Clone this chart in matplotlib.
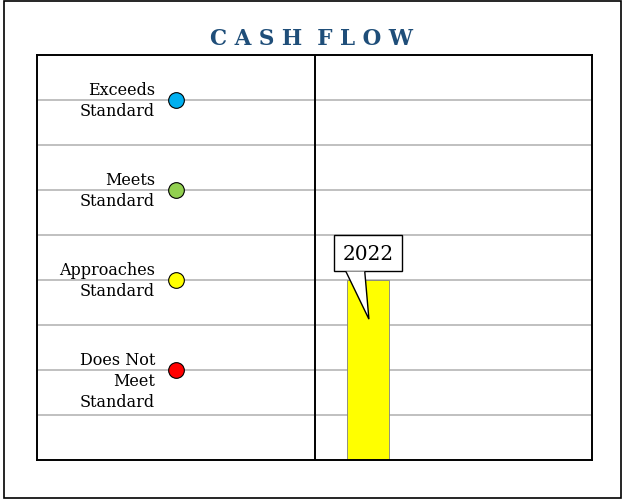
import matplotlib.pyplot as plt
from matplotlib.patches import Rectangle, Polygon

# rating levels shown on the left panel
levels = ["Exceeds\nStandard", "Meets\nStandard", "Approaches\nStandard", "Does Not\nMeet\nStandard"]
level_values = [8, 6, 4, 2]
level_colors = ["#00b0f0", "#92d050", "#ffff00", "#ff0000"]

# bar on the right panel
years = ["2022"]
year_values = [4]

fig = plt.figure(figsize=(6.23, 5.02), dpi=100)
ax = fig.add_axes([0.0594, 0.0817, 0.8909, 0.8068])

# frame round the whole picture
fig.patches.append(Rectangle((4 / 623, 1 - 499 / 502), 617 / 623, 497 / 502,
                             transform=fig.transFigure, fill=False,
                             edgecolor="black", linewidth=1.2))

ax.set_xlim(0, 2)
ax.set_ylim(0, 9)
for g in range(1, 9):
    ax.axhline(g, color="#c0c0c0", linewidth=1.4, zorder=0)
ax.axvline(1, color="black", linewidth=1.4, zorder=1)

for lab, val, col in zip(levels, level_values, level_colors):
    ax.plot(0.5, val, "o", markersize=11.3, markerfacecolor=col,
            markeredgecolor="black", markeredgewidth=0.8, zorder=3)
    ax.text(0.425, val + 0.42, lab, ha="right", va="top", fontsize=11.5,
            family="DejaVu Serif", linespacing=1.3)

bar_x = 1.193
ax.bar([bar_x], year_values, width=0.15, color="#ffff00", edgecolor="#7f7f7f",
       linewidth=0.6, zorder=2)

# callout above the bar
for yr, val in zip(years, year_values):
    ax.text(bar_x, val + 0.59, yr, ha="center", va="center", fontsize=14.5,
            family="DejaVu Serif", zorder=5,
            bbox=dict(boxstyle="square,pad=0.42", facecolor="white",
                      edgecolor="black", linewidth=1.0))
    ax.add_patch(Polygon([(bar_x - 0.08, val + 0.19), (bar_x + 0.003, val - 0.87),
                          (bar_x - 0.012, val + 0.19)], closed=False,
                         facecolor="white", edgecolor="black", linewidth=1.0,
                         zorder=6))

ax.set_xticks([])
ax.set_yticks([])
for s in ax.spines.values():
    s.set_linewidth(1.4)

fig.text(0.5, 0.922, "C A S H  F L O W", ha="center", va="center",
         fontsize=15.5, fontweight="bold", family="DejaVu Serif", color="#1f4e79")

fig.savefig("out.png", dpi=100)
